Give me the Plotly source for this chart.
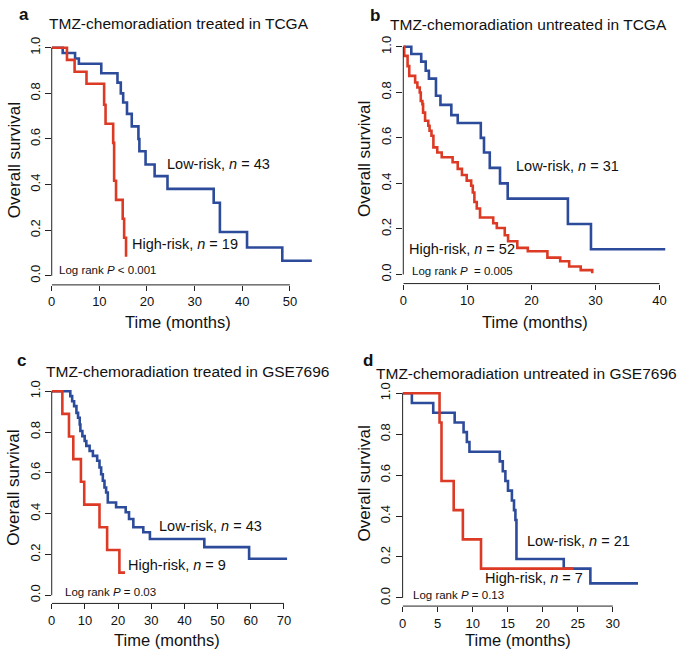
import plotly.graph_objects as go

# ---------------- data ----------------
titles = ["TMZ-chemoradiation treated in TCGA",
          "TMZ-chemoradiation untreated in TCGA",
          "TMZ-chemoradiation treated in GSE7696",
          "TMZ-chemoradiation untreated in GSE7696"]
panel_letters = ["a", "b", "c", "d"]
low_labels = ["Low-risk, <i>n</i> = 43", "Low-risk, <i>n</i> = 31",
              "Low-risk, <i>n</i> = 43", "Low-risk, <i>n</i> = 21"]
high_labels = ["High-risk, <i>n</i> = 19", "High-risk, <i>n</i> = 52",
               "High-risk, <i>n</i> = 9", "High-risk, <i>n</i> = 7"]
logrank_labels = ["Log rank <i>P</i> < 0.001", "Log rank <i>P</i>  = 0.005",
                  "Log rank <i>P</i> = 0.03", "Log rank <i>P</i> = 0.13"]

x_ticks = [[0, 10, 20, 30, 40, 50], [0, 10, 20, 30, 40],
           [0, 10, 20, 30, 40, 50, 60, 70], [0, 5, 10, 15, 20, 25, 30]]
y_ticks = [0.0, 0.2, 0.4, 0.6, 0.8, 1.0]
y_tick_text = ["0.0", "0.2", "0.4", "0.6", "0.8", "1.0"]

# Panel a
a_low_t = [0, 2.3, 4.9, 5.7, 10.4, 13.8, 14.5, 15.0, 15.8, 16.8, 18.2, 18.4, 19.7, 21.6, 24.3, 34.0, 35.3, 41.0, 48.4, 54.6]
a_low_s = [1.0, 0.977, 0.953, 0.930, 0.888, 0.847, 0.800, 0.760, 0.710, 0.655, 0.600, 0.546, 0.488, 0.437, 0.381, 0.320, 0.192, 0.124, 0.066, 0.066]
a_high_t = [0, 3.2, 4.8, 7.3, 11.0, 11.3, 12.9, 13.1, 13.5, 14.9, 15.2, 15.6]
a_high_s = [1.0, 0.947, 0.895, 0.842, 0.750, 0.667, 0.583, 0.417, 0.333, 0.250, 0.167, 0.083]

# Panel b
b_low_t = [0, 1.25, 2.8, 3.5, 4.0, 5.1, 5.8, 7.5, 8.5, 12.1, 12.6, 13.5, 15.1, 16.3, 25.7, 29.3, 40.9]
b_low_s = [1.0, 0.968, 0.935, 0.895, 0.860, 0.785, 0.745, 0.700, 0.665, 0.600, 0.536, 0.468, 0.400, 0.333, 0.222, 0.111, 0.111]
b_high_t = [0, 0.15, 0.67, 0.93, 1.85, 2.2, 2.57, 2.73, 2.98, 3.09, 3.4, 3.9, 4.1, 4.4, 4.7, 5.3, 6.0,
            7.7, 8.5, 9.16, 9.9, 10.6, 10.85, 11.1, 11.47, 11.98, 14.04, 14.6, 15.84, 16.36, 17.8,
            19.44, 22.5, 24.5, 25.9, 27.7, 29.5]
b_high_s = [1.0, 0.960, 0.915, 0.872, 0.843, 0.821, 0.799, 0.762, 0.748, 0.711, 0.675, 0.653, 0.631, 0.609, 0.558, 0.536, 0.515,
            0.493, 0.464, 0.437, 0.412, 0.390, 0.360, 0.318, 0.290, 0.250, 0.225, 0.204, 0.172, 0.146, 0.117,
            0.102, 0.074, 0.058, 0.035, 0.019, 0.005]

# Panel c
c_low_t = [0, 5.6, 6.16, 6.75, 7.45, 7.94, 8.44, 8.64, 9.24, 9.93, 10.43, 11.42, 12.41, 13.7, 14.4, 14.9, 15.4, 15.9,
           16.4, 16.9, 19.4, 22.3, 23.3, 24.6, 27.6, 29.6, 46.0, 59.5, 71.0]
c_low_s = [1.0, 0.976, 0.951, 0.927, 0.894, 0.870, 0.837, 0.805, 0.780, 0.756, 0.732, 0.707, 0.683, 0.659, 0.626, 0.593, 0.561, 0.528,
           0.504, 0.455, 0.431, 0.407, 0.374, 0.333, 0.309, 0.276, 0.236, 0.179, 0.179]
c_high_t = [0, 3.2, 5.2, 6.5, 8.8, 9.8, 14.4, 16.7, 20.4, 22.1]
c_high_s = [1.0, 0.889, 0.778, 0.667, 0.556, 0.444, 0.333, 0.222, 0.111, 0.111]

# Panel d
d_low_t = [0, 1.32, 4.37, 7.43, 8.7, 9.17, 9.54, 13.87, 14.3, 14.67, 15.04, 15.6, 15.9, 16.1, 16.25, 23.0, 26.8, 33.6]
d_low_s = [1.0, 0.952, 0.905, 0.857, 0.810, 0.762, 0.714, 0.667, 0.619, 0.571, 0.524, 0.476, 0.429, 0.381, 0.190, 0.143, 0.071, 0.071]
d_high_t = [0, 5.27, 5.55, 7.29, 8.6, 11.19, 24.4]
d_high_s = [1.0, 0.857, 0.571, 0.429, 0.286, 0.143, 0.143]

low_series = [(a_low_t, a_low_s), (b_low_t, b_low_s), (c_low_t, c_low_s), (d_low_t, d_low_s)]
high_series = [(a_high_t, a_high_s), (b_high_t, b_high_s), (c_high_t, c_high_s), (d_high_t, d_high_s)]

# ---------------- layout / style ----------------
W, H = 685, 651
FONT = "Liberation Sans, Arial, sans-serif"
BLUE = "#2d4b9b"
RED = "#dc3a25"
AXC = "#222222"

x_ranges = [[0, 55], [0, 41], [0, 71], [0, 33.6]]
x_domains = [[0.0705, 0.4575], [0.5898, 0.9777], [0.0705, 0.4184], [0.5888, 0.9365]]
y_domains = [[0.5650, 0.9450], [0.5670, 0.9465], [0.0734, 0.4135], [0.0693, 0.4104]]

# annotation positions in data coords of each panel
low_pos = [(23.8, 0.489), (17.3, 0.475), (31.8, 0.341), (17.4, 0.277)]
high_pos = [(16.5, 0.140), (0.6, 0.112), (22.5, 0.146), (11.5, 0.096)]
lr_pos = [(1.2, 0.026), (1.1, 0.016), (3.5, 0.016), (1.2, 0.013)]

# title / label positions in pixels
title_px = [(177, 21), (531, 22), (186, 370), (529, 372)]
letter_px = [(20, 12), (375, 13), (18, 359), (368, 359)]
ylab_px = [(10, 158), (365, 157), (10, 487), (365, 483)]
xlab_px = [(176, 320), (537, 320), (165, 640), (520, 640)]


def px(x, y):
    return x / W, 1 - y / H


fig = go.Figure()
annotations = []
shapes = []

for i in range(4):
    n = "" if i == 0 else str(i + 1)
    xa, ya = "x" + n, "y" + n
    lt, ls = low_series[i]
    ht, hs = high_series[i]
    fig.add_trace(go.Scatter(x=lt, y=ls, mode="lines", line=dict(color=BLUE, width=2.6, shape="hv"),
                             xaxis=xa, yaxis=ya, showlegend=False, hoverinfo="skip"))
    fig.add_trace(go.Scatter(x=ht, y=hs, mode="lines", line=dict(color=RED, width=2.6, shape="hv"),
                             xaxis=xa, yaxis=ya, showlegend=False, hoverinfo="skip"))

    fig.layout["xaxis" + n] = dict(domain=x_domains[i], range=x_ranges[i], anchor=ya,
                                   showgrid=False, zeroline=False, showline=False,
                                   ticks="outside", ticklen=5, tickwidth=1, tickcolor=AXC,
                                   tickvals=x_ticks[i], tickfont=dict(size=13, color="#111", family=FONT))
    fig.layout["yaxis" + n] = dict(domain=y_domains[i], range=[-0.04, 1.04], anchor=xa,
                                   showgrid=False, zeroline=False, showline=False,
                                   ticks="outside", ticklen=6, tickwidth=1, tickcolor=AXC,
                                   tickvals=y_ticks, ticktext=y_tick_text, tickangle=-90,
                                   tickfont=dict(size=13, color="#111", family=FONT))

    # R-style axis lines spanning first to last tick
    shapes.append(dict(type="line", xref=xa + " domain", yref=ya, x0=0, x1=0, y0=0, y1=1,
                       line=dict(color=AXC, width=1)))
    shapes.append(dict(type="line", xref=xa, yref=ya + " domain", x0=x_ticks[i][0], x1=x_ticks[i][-1],
                       y0=0, y1=0, line=dict(color=AXC, width=1)))

    # curve labels
    for (tx, ty), txt, sz in [(low_pos[i], low_labels[i], 14.5), (high_pos[i], high_labels[i], 14.5),
                              (lr_pos[i], logrank_labels[i], 11.5)]:
        annotations.append(dict(x=tx, y=ty, xref=xa, yref=ya, text=txt, showarrow=False,
                                xanchor="left", yanchor="middle", font=dict(size=sz, color="#111", family=FONT)))

    # titles, panel letters, axis titles
    x0, y0 = px(*title_px[i])
    annotations.append(dict(x=x0, y=y0, xref="paper", yref="paper", text=titles[i], showarrow=False,
                            xanchor="center", yanchor="middle", font=dict(size=15.5, color="#111", family=FONT)))
    x0, y0 = px(*letter_px[i])
    annotations.append(dict(x=x0, y=y0, xref="paper", yref="paper", text="<b>" + panel_letters[i] + "</b>",
                            showarrow=False, xanchor="center", yanchor="middle",
                            font=dict(size=17, color="#111", family=FONT)))
    x0, y0 = px(*ylab_px[i])
    annotations.append(dict(x=x0, y=y0, xref="paper", yref="paper", text="Overall survival", showarrow=False,
                            textangle=-90, xanchor="center", yanchor="middle",
                            font=dict(size=17, color="#111", family=FONT)))
    x0, y0 = px(*xlab_px[i])
    annotations.append(dict(x=x0, y=y0, xref="paper", yref="paper", text="Time (months)", showarrow=False,
                            xanchor="center", yanchor="middle", borderpad=0,
                            font=dict(size=16.5, color="#111", family=FONT)))

fig.update_layout(width=W, height=H, margin=dict(l=0, r=0, t=0, b=0),
                  paper_bgcolor="white", plot_bgcolor="white",
                  font=dict(family=FONT), annotations=annotations, shapes=shapes)

fig.write_html("out.html", config={"displayModeBar": False},
               post_script="document.body.style.margin='0px';document.body.style.overflow='hidden';")
